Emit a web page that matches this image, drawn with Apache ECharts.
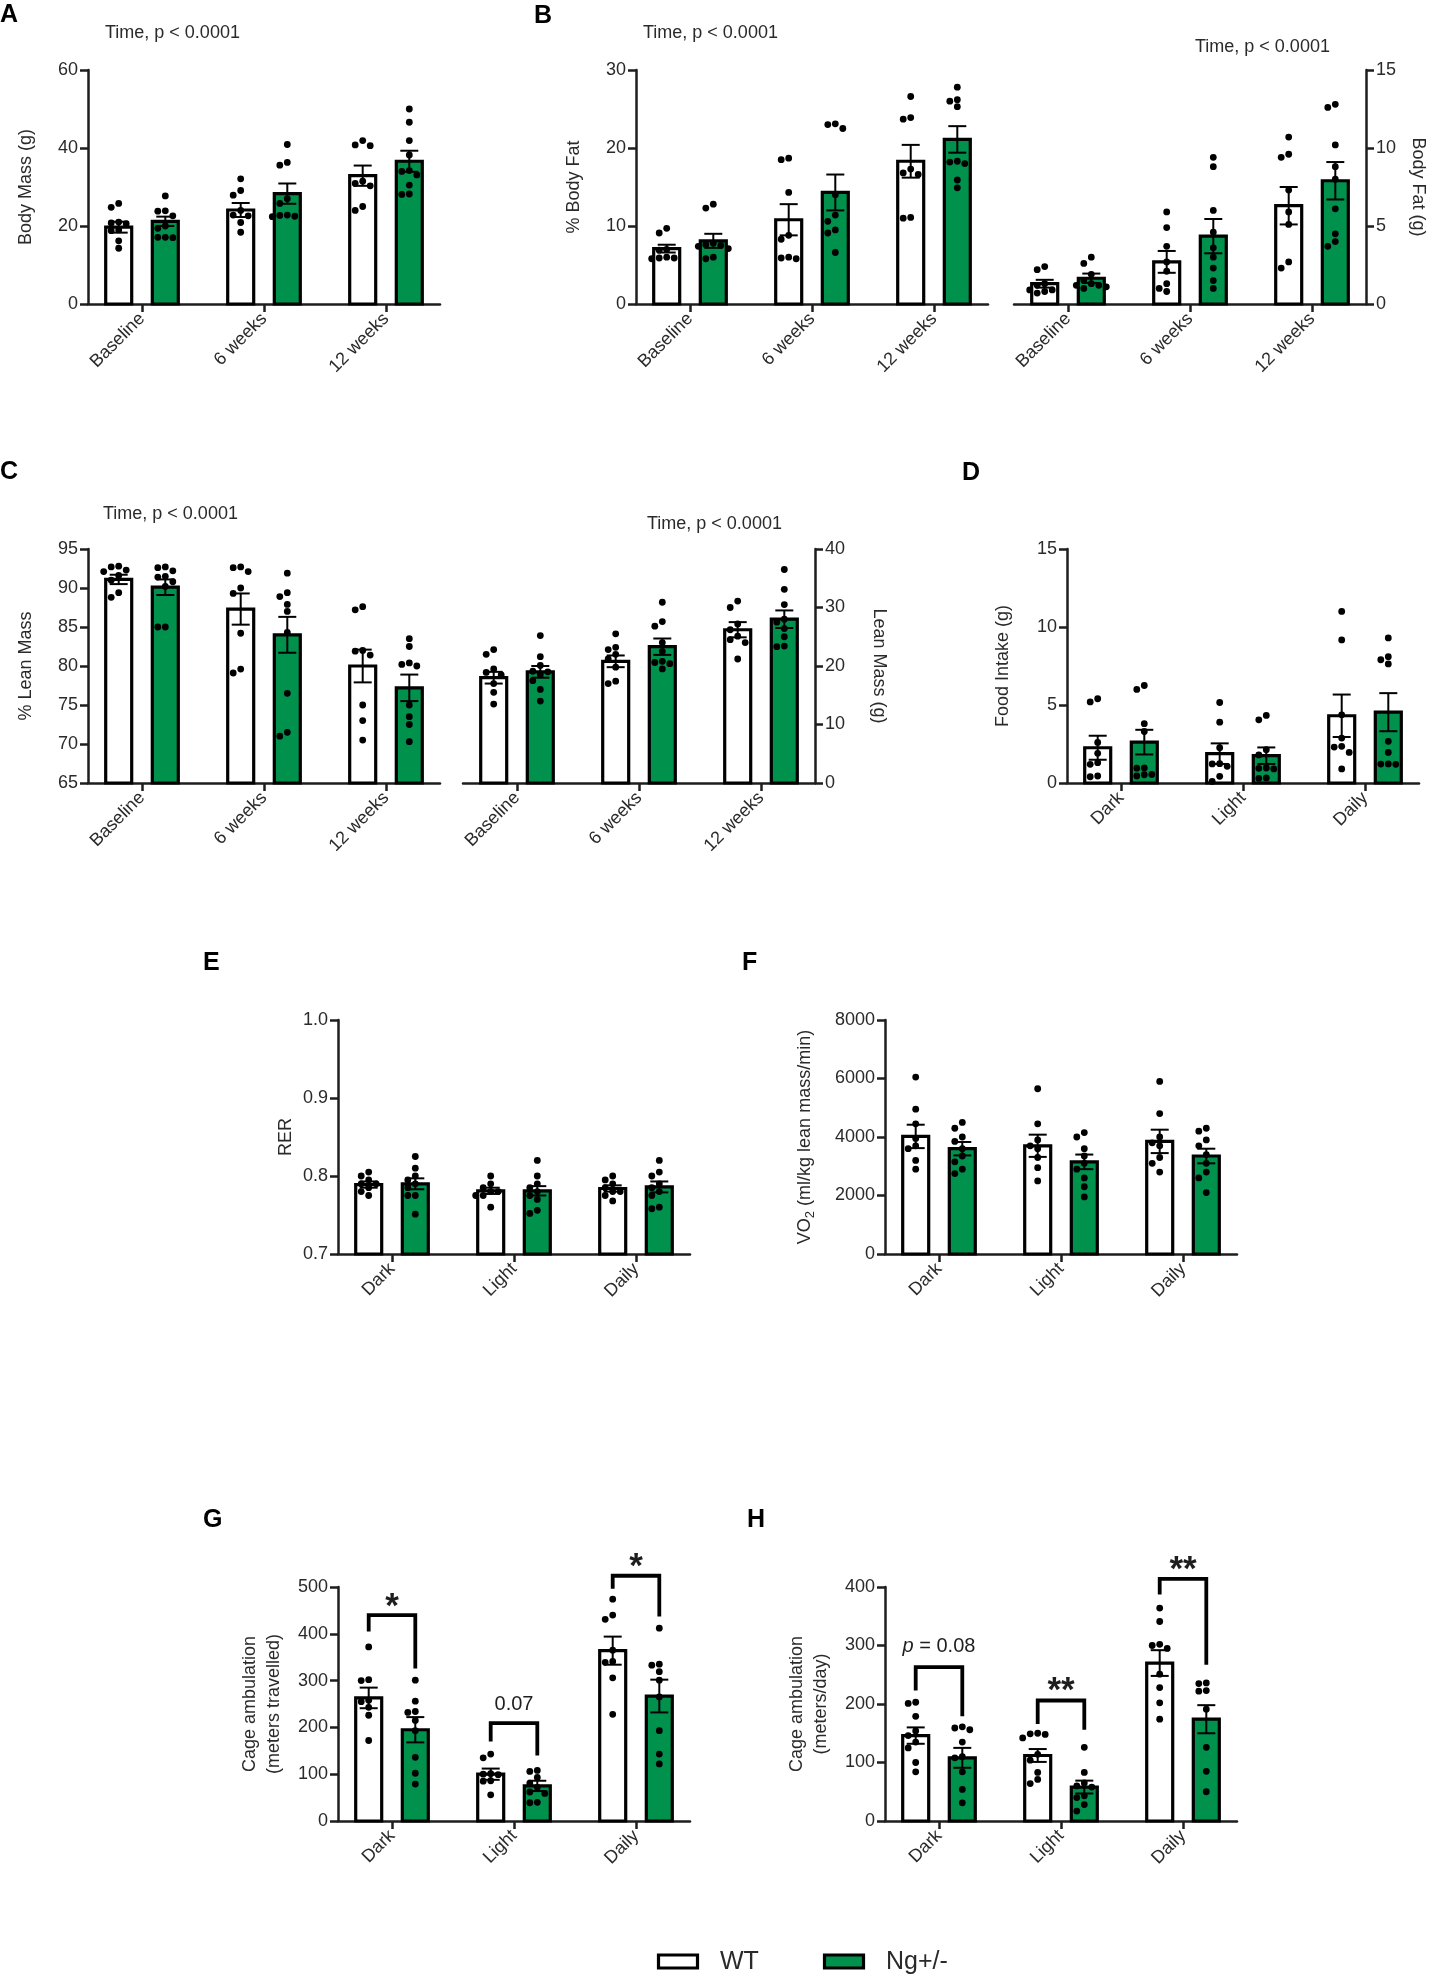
<!DOCTYPE html>
<html>
<head>
<meta charset="utf-8">
<script src="https://cdn.jsdelivr.net/npm/echarts@6/dist/echarts.min.js"></script>
<style>
  html, body { margin: 0; padding: 0; background: #fff; }
  #main { width: 1435px; height: 1976px; }
</style>
</head>
<body>
<div id="main"></div>
<script>
var GREEN = '#00914C';
var INK = '#1e1e1e';
var FONT = '"Liberation Sans", Arial, Helvetica, sans-serif';

// categories / groups
var timeCats = ['Baseline', '6 weeks', '12 weeks'];
var periodCats = ['Dark', 'Light', 'Daily'];
var groups = ['WT', 'Ng+/-'];

// A - body mass (g)
var massWtMean = [19.7, 24.1, 32.9];
var massWtSem = [1.4, 1.8, 2.6];
var massNgMean = [21.2, 28.3, 36.6];
var massNgSem = [1.2, 2.6, 2.7];
var massWtDots = [[25.8, 24.8, 21.0, 20.8, 20.6, 19.0, 18.8, 16.2, 14.3], [32.1, 29.1, 27.9, 24.0, 22.8, 22.6, 20.9, 18.4], [41.9, 40.8, 40.6, 31.5, 30.9, 30.3, 25.0, 24.0]];
var massNgDots = [[27.7, 23.9, 23.8, 22.6, 20.0, 19.4, 17.1, 17.0, 17.1], [40.9, 36.3, 35.6, 27.0, 25.8, 22.8, 22.5, 22.4, 22.7], [50.0, 46.6, 41.9, 38.2, 34.2, 34.0, 33.1, 30.5, 28.2, 28.1]];

// B - % body fat
var fatPctWtMean = [7.1, 10.8, 18.3];
var fatPctWtSem = [0.5, 2.0, 2.1];
var fatPctNgMean = [8.1, 14.3, 21.1];
var fatPctNgSem = [0.9, 2.3, 1.7];
var fatPctWtDots = [[9.7, 9.1, 7.0, 6.9, 6.0, 5.9, 5.8, 5.9], [18.7, 18.5, 14.3, 8.8, 8.3, 6.0, 5.8, 5.9], [26.6, 23.9, 23.7, 17.3, 16.8, 16.6, 11.1, 11.0]];
var fatPctNgDots = [[12.8, 12.3, 7.8, 7.6, 7.5, 7.1, 6.0, 5.8, 7.4], [23.1, 23.0, 22.5, 14.0, 11.4, 10.6, 9.5, 9.1, 6.6], [27.8, 26.2, 26.0, 25.3, 18.3, 18.0, 18.2, 15.9, 14.9]];

// B - body fat (g)
var fatGWtMean = [1.3, 2.7, 6.3];
var fatGWtSem = [0.25, 0.7, 1.2];
var fatGNgMean = [1.65, 4.35, 7.9];
var fatGNgSem = [0.3, 1.1, 1.2];
var fatGWtDots = [[2.4, 2.2, 1.3, 1.2, 0.9, 0.8, 0.9, 0.7], [5.9, 4.9, 3.7, 2.7, 2.1, 1.3, 1.0, 0.8], [10.7, 9.6, 9.4, 7.3, 5.9, 5.1, 2.7, 2.3]];
var fatGNgDots = [[3.0, 2.6, 1.9, 1.5, 1.3, 1.2, 1.1, 1.0, 1.2], [9.4, 8.8, 6.0, 4.6, 3.6, 3.0, 2.3, 1.5, 1.0], [12.8, 12.6, 10.2, 8.8, 8.0, 6.1, 4.5, 3.7, 4.0]];

// C - % lean mass
var leanPctWtMean = [91.1, 87.3, 80.0];
var leanPctWtSem = [0.6, 2.0, 2.1];
var leanPctNgMean = [90.1, 84.0, 77.2];
var leanPctNgSem = [1.0, 2.3, 1.7];
var leanPctWtDots = [[92.8, 92.7, 92.3, 92.1, 91.6, 91.0, 89.4, 88.8], [92.7, 92.6, 92.1, 90.0, 89.3, 84.2, 79.6, 79.1], [87.6, 87.2, 82.0, 81.9, 81.4, 75.0, 73.0, 70.5]];
var leanPctNgDots = [[92.7, 92.6, 92.2, 91.5, 91.4, 90.8, 90.2, 85.0, 85.0], [91.9, 89.4, 88.9, 87.9, 87.0, 84.3, 76.5, 71.5, 71.0], [83.5, 82.5, 80.4, 80.2, 80.0, 75.0, 73.5, 72.5, 70.3]];

// C - lean mass (g)
var leanGWtMean = [18.0, 20.8, 26.2];
var leanGWtSem = [1.0, 1.0, 1.3];
var leanGNgMean = [19.0, 23.3, 28.0];
var leanGNgSem = [1.0, 1.4, 1.5];
var leanGWtDots = [[22.8, 22.0, 19.5, 18.9, 18.5, 17.0, 15.5, 13.5], [25.5, 23.2, 22.8, 22.0, 21.2, 19.8, 17.4, 17.0], [31.1, 30.0, 27.2, 26.2, 25.1, 24.0, 21.2, 24.5]];
var leanGNgDots = [[25.2, 21.6, 20.1, 19.0, 19.1, 17.5, 16.0, 14.0, 18.5], [30.9, 27.6, 26.8, 24.0, 22.5, 20.8, 20.6, 20.4, 19.5], [36.5, 33.1, 30.5, 28.0, 27.5, 26.4, 25.0, 23.3, 23.4]];

// D - food intake (g)
var foodWtMean = [2.26, 1.88, 4.31];
var foodWtSem = [0.77, 0.66, 1.36];
var foodNgMean = [2.62, 1.75, 4.54];
var foodNgSem = [0.79, 0.53, 1.22];
var foodWtDots = [[5.4, 5.2, 2.6, 1.9, 1.3, 1.2, 0.45, 0.4], [5.16, 3.9, 2.26, 1.24, 1.22, 1.07, 0.43, 0.1], [11.0, 9.17, 4.37, 2.88, 2.35, 2.3, 1.96, 0.9]];
var foodNgDots = [[6.25, 6.0, 3.8, 3.3, 0.96, 0.95, 0.53, 0.55, 0.45], [4.33, 4.05, 2.13, 1.8, 0.96, 0.94, 0.9, 0.32, 0.3], [9.3, 8.1, 7.9, 7.63, 2.67, 1.96, 1.22, 1.2, 1.21]];

// E - RER
var rerWtMean = [0.789, 0.781, 0.784];
var rerWtSem = [0.004, 0.004, 0.004];
var rerNgMean = [0.790, 0.781, 0.786];
var rerNgSem = [0.007, 0.006, 0.007];
var rerWtDots = [[0.805, 0.80, 0.795, 0.79, 0.79, 0.785, 0.78, 0.775], [0.80, 0.79, 0.785, 0.78, 0.78, 0.775, 0.775, 0.76], [0.80, 0.795, 0.79, 0.785, 0.78, 0.78, 0.775, 0.768]];
var rerNgDots = [[0.825, 0.81, 0.80, 0.795, 0.79, 0.785, 0.775, 0.775, 0.751], [0.82, 0.80, 0.79, 0.785, 0.78, 0.775, 0.77, 0.756, 0.752], [0.82, 0.805, 0.80, 0.79, 0.785, 0.78, 0.775, 0.76, 0.758]];

// F - VO2
var vo2WtMean = [4020, 3700, 3850];
var vo2WtSem = [400, 380, 400];
var vo2NgMean = [3600, 3150, 3350];
var vo2NgSem = [230, 250, 250];
var vo2WtDots = [[6050, 4950, 4450, 3950, 3700, 3600, 3200, 2900], [5650, 4450, 3900, 3700, 3600, 3300, 2950, 2500], [5900, 4800, 4000, 3800, 3700, 3300, 3100, 2800]];
var vo2NgDots = [[4500, 4300, 4000, 3850, 3600, 3350, 3150, 2900, 2750], [4150, 4000, 3600, 3350, 3100, 2900, 2600, 2300, 1950], [4300, 4200, 3900, 3700, 3400, 3100, 2800, 2600, 2100]];

// G - cage ambulation (meters travelled)
var ambWtMean = [263, 100, 364];
var ambWtSem = [22, 12, 30];
var ambNgMean = [195, 75, 267];
var ambNgSem = [27, 11, 35];
var ambWtDots = [[372, 302, 300, 258, 255, 243, 226, 172], [143, 135, 101, 100, 99, 86, 85, 56], [474, 440, 431, 365, 341, 339, 306, 228]];
var ambNgDots = [[301, 256, 234, 232, 215, 193, 136, 102, 79], [108, 106, 93, 81, 72, 62, 59, 40, 39], [412, 335, 333, 319, 301, 265, 193, 143, 122]];
var ambSigTop = [440, 209, 524];
var ambSigLeft = [405, 170, 496];
var ambSigRight = [326, 140, 437];
var ambSigText = ['*', '0.07', '*'];
var ambSigY = [472, 249, 557];

// H - cage ambulation (meters/day)
var dayWtMean = [146, 112, 270];
var dayWtSem = [14, 11, 22];
var dayNgMean = [108, 58, 174];
var dayNgSem = [17, 11, 24];
var dayWtDots = [[203, 201, 179, 154, 146, 135, 125, 100, 84], [150, 149, 148, 142, 114, 104, 83, 71, 64], [364, 341, 302, 300, 295, 251, 228, 202, 174]];
var dayNgDots = [[161, 159, 156, 135, 110, 108, 84, 54, 31], [126, 83, 65, 60, 58, 43, 40, 28, 17], [236, 235, 223, 222, 191, 126, 85, 50]];
var daySigTop = [263, 206, 414];
var daySigLeft = [223, 166, 387];
var daySigRight = [179, 156, 267];
var daySigText = ['{i|p} = 0.08', '**', '**'];
var daySigY = [298, 233, 441];

// layout constants
var X_MIN = -0.4426, X_MAX = 2.4426;
var PANEL_W = 352, PANEL_H = 234;
var OFF = 23.3, BAR_W = 26, CAP = 9, DOT_R = 3.4;

var grids = [], xAxes = [], yAxes = [], series = [];

// simple beeswarm: spread dots sideways so they do not overlap
function swarm(vals, pxPerUnit) {
    var order = vals.map(function (v, k) { return k; })
        .sort(function (a, b) { return vals[b] - vals[a]; });
    var cand = [0, -7.5, 7.5, -15, 15, -22, 22];
    var placed = [], out = [];
    order.forEach(function (k) {
        var y = vals[k] * pxPerUnit, x = cand[cand.length - 1];
        for (var j = 0; j < cand.length; j++) {
            var ok = placed.every(function (q) {
                var dx = q[0] - cand[j], dy = q[1] - y;
                return dx * dx + dy * dy >= 44;
            });
            if (ok) { x = cand[j]; break; }
        }
        placed.push([x, y]);
        out[k] = x;
    });
    return out;
}

function addPanel(p) {
    var i = grids.length;
    grids.push({ left: p.left, top: p.top, width: PANEL_W, height: PANEL_H });
    xAxes.push({
        gridIndex: i, type: 'value', min: X_MIN, max: X_MAX,
        axisLine: { onZero: false, lineStyle: { color: INK, width: 2.5 } },
        axisTick: { customValues: [0, 1, 2], length: 8, lineStyle: { color: INK, width: 2.5 } },
        axisLabel: {
            customValues: [0, 1, 2], rotate: 45, margin: 12,
            fontSize: 18, fontFamily: FONT, color: '#2a2a2a',
            formatter: function (v) { return p.cats[Math.round(v)]; }
        },
        splitLine: { show: false }
    });
    var nameStyle = { fontSize: 18, fontFamily: FONT, color: '#2a2a2a', lineHeight: 24 };
    if (p.rich) nameStyle.rich = p.rich;
    yAxes.push({
        gridIndex: i, type: 'value', position: p.right ? 'right' : 'left',
        min: p.min, max: p.max, interval: p.interval,
        name: p.name, nameLocation: 'middle', nameGap: p.nameGap,
        nameRotate: p.right ? -90 : 90, nameTextStyle: nameStyle,
        axisLine: { show: true, onZero: false, lineStyle: { color: INK, width: 2.5 } },
        axisTick: { show: true, length: 8, lineStyle: { color: INK, width: 2.5 } },
        axisLabel: {
            fontSize: 18, fontFamily: FONT, color: '#2a2a2a', margin: 10,
            formatter: p.fmt || function (v) { return String(v); }
        },
        splitLine: { show: false }
    });

    var yMin = p.min;
    var bars = [];
    for (var c = 0; c < 3; c++) {
        bars.push([c, p.wtMean[c], p.wtSem[c], 0]);
        bars.push([c, p.ngMean[c], p.ngSem[c], 1]);
    }
    series.push({
        type: 'custom', xAxisIndex: i, yAxisIndex: i, z: 2,
        data: bars,
        renderItem: function (params, api) {
            var c = api.value(0), m = api.value(1), s = api.value(2), g = api.value(3);
            var base = api.coord([c, yMin]);
            var top = api.coord([c, m]);
            var cx = base[0] + (g === 0 ? -OFF : OFF);
            var hi = api.coord([c, m + s])[1];
            var lo = api.coord([c, Math.max(m - s, yMin)])[1];
            var ink = { stroke: '#000', lineWidth: 2 };
            return {
                type: 'group', children: [
                    { type: 'rect', shape: { x: cx - BAR_W / 2, y: top[1], width: BAR_W, height: base[1] - top[1] },
                      style: { fill: g ? GREEN : '#fff', stroke: '#000', lineWidth: 3.2 } },
                    { type: 'line', shape: { x1: cx, y1: hi, x2: cx, y2: lo }, style: ink },
                    { type: 'line', shape: { x1: cx - CAP, y1: hi, x2: cx + CAP, y2: hi }, style: ink },
                    { type: 'line', shape: { x1: cx - CAP, y1: lo, x2: cx + CAP, y2: lo }, style: ink }
                ]
            };
        }
    });

    var ppu = PANEL_H / (p.max - p.min);
    var dots = [];
    [p.wtDots, p.ngDots].forEach(function (set, g) {
        set.forEach(function (vals, c) {
            var jit = swarm(vals, ppu);
            vals.forEach(function (v, k) { dots.push([c, v, jit[k], g]); });
        });
    });
    series.push({
        type: 'custom', xAxisIndex: i, yAxisIndex: i, z: 3,
        data: dots,
        renderItem: function (params, api) {
            var pt = api.coord([api.value(0), api.value(1)]);
            var cx = pt[0] + (api.value(3) === 0 ? -OFF : OFF) + api.value(2);
            return { type: 'circle', shape: { cx: cx, cy: pt[1], r: DOT_R }, style: { fill: '#000' } };
        }
    });

    if (p.sigTop) {
        var sig = [];
        for (var k = 0; k < 3; k++) sig.push([k, p.sigTop[k], p.sigLeft[k], p.sigRight[k], p.sigY[k]]);
        series.push({
            type: 'custom', xAxisIndex: i, yAxisIndex: i, z: 4,
            data: sig,
            renderItem: function (params, api) {
                var c = api.value(0);
                var t = api.coord([c, api.value(1)]);
                var l = api.coord([c, api.value(2)]);
                var r = api.coord([c, api.value(3)]);
                var ty = api.coord([c, api.value(4)])[1];
                var txt = p.sigText[params.dataIndex];
                var star = txt.indexOf('*') === 0;
                return {
                    type: 'group', children: [
                        { type: 'polyline',
                          shape: { points: [[t[0] - OFF, l[1]], [t[0] - OFF, t[1]], [t[0] + OFF, t[1]], [t[0] + OFF, r[1]]] },
                          style: { stroke: '#000', lineWidth: 3.8, fill: null, lineJoin: 'miter' } },
                        { type: 'text', x: t[0], y: ty + (star ? 7 : 0),
                          style: {
                              text: txt, align: 'center', verticalAlign: 'middle',
                              fontFamily: FONT, fill: INK,
                              fontSize: star ? 35 : 20, fontWeight: star ? 'bold' : 'normal',
                              rich: { i: { fontStyle: 'italic', fontSize: 20, fontFamily: FONT, fill: INK } }
                          } }
                    ]
                };
            }
        });
    }
}

addPanel({ left: 88, top: 70, cats: timeCats, min: 0, max: 60, interval: 20, name: 'Body Mass (g)', nameGap: 50,
    wtMean: massWtMean, wtSem: massWtSem, ngMean: massNgMean, ngSem: massNgSem, wtDots: massWtDots, ngDots: massNgDots });
addPanel({ left: 636, top: 70, cats: timeCats, min: 0, max: 30, interval: 10, name: '% Body Fat', nameGap: 50,
    wtMean: fatPctWtMean, wtSem: fatPctWtSem, ngMean: fatPctNgMean, ngSem: fatPctNgSem, wtDots: fatPctWtDots, ngDots: fatPctNgDots });
addPanel({ left: 1014, top: 70, cats: timeCats, min: 0, max: 15, interval: 5, right: true, name: 'Body Fat (g)', nameGap: 40,
    wtMean: fatGWtMean, wtSem: fatGWtSem, ngMean: fatGNgMean, ngSem: fatGNgSem, wtDots: fatGWtDots, ngDots: fatGNgDots });
addPanel({ left: 88, top: 549, cats: timeCats, min: 65, max: 95, interval: 5, name: '% Lean Mass', nameGap: 50,
    wtMean: leanPctWtMean, wtSem: leanPctWtSem, ngMean: leanPctNgMean, ngSem: leanPctNgSem, wtDots: leanPctWtDots, ngDots: leanPctNgDots });
addPanel({ left: 463, top: 549, cats: timeCats, min: 0, max: 40, interval: 10, right: true, name: 'Lean Mass (g)', nameGap: 52,
    wtMean: leanGWtMean, wtSem: leanGWtSem, ngMean: leanGNgMean, ngSem: leanGNgSem, wtDots: leanGWtDots, ngDots: leanGNgDots });
addPanel({ left: 1067, top: 549, cats: periodCats, min: 0, max: 15, interval: 5, name: 'Food Intake (g)', nameGap: 52,
    wtMean: foodWtMean, wtSem: foodWtSem, ngMean: foodNgMean, ngSem: foodNgSem, wtDots: foodWtDots, ngDots: foodNgDots });
addPanel({ left: 338, top: 1020, cats: periodCats, min: 0.7, max: 1.0, interval: 0.1, name: 'RER', nameGap: 40,
    fmt: function (v) { return v.toFixed(1); },
    wtMean: rerWtMean, wtSem: rerWtSem, ngMean: rerNgMean, ngSem: rerNgSem, wtDots: rerWtDots, ngDots: rerNgDots });
addPanel({ left: 885, top: 1020, cats: periodCats, min: 0, max: 8000, interval: 2000,
    name: 'VO{sub|2} (ml/kg lean mass/min)', nameGap: 68,
    rich: { sub: { fontSize: 13, fontFamily: FONT, color: '#2a2a2a', padding: [10, 0, 0, 0] } },
    wtMean: vo2WtMean, wtSem: vo2WtSem, ngMean: vo2NgMean, ngSem: vo2NgSem, wtDots: vo2WtDots, ngDots: vo2NgDots });
addPanel({ left: 338, top: 1587, cats: periodCats, min: 0, max: 500, interval: 100,
    name: 'Cage ambulation\n(meters travelled)', nameGap: 52,
    wtMean: ambWtMean, wtSem: ambWtSem, ngMean: ambNgMean, ngSem: ambNgSem, wtDots: ambWtDots, ngDots: ambNgDots,
    sigTop: ambSigTop, sigLeft: ambSigLeft, sigRight: ambSigRight, sigText: ambSigText, sigY: ambSigY });
addPanel({ left: 885, top: 1587, cats: periodCats, min: 0, max: 400, interval: 100,
    name: 'Cage ambulation\n(meters/day)', nameGap: 52,
    wtMean: dayWtMean, wtSem: dayWtSem, ngMean: dayNgMean, ngSem: dayNgSem, wtDots: dayWtDots, ngDots: dayNgDots,
    sigTop: daySigTop, sigLeft: daySigLeft, sigRight: daySigRight, sigText: daySigText, sigY: daySigY });

function txt(s, x, y, size, bold) {
    return { type: 'text', x: x, y: y, style: {
        text: s, fontSize: size, fontWeight: bold ? 'bold' : 'normal',
        fontFamily: FONT, fill: bold ? '#000' : '#2a2a2a', verticalAlign: 'middle' } };
}

var timeNote = 'Time, p < 0.0001';
var graphics = [
    txt('A', 0, 15, 25, true), txt('B', 534, 16, 25, true),
    txt('C', 0, 472, 25, true), txt('D', 962, 473, 25, true),
    txt('E', 203, 963, 25, true), txt('F', 742, 963, 25, true),
    txt('G', 203, 1520, 25, true), txt('H', 747, 1520, 25, true),
    txt(timeNote, 105, 33, 18), txt(timeNote, 643, 33, 18), txt(timeNote, 1195, 47, 18),
    txt(timeNote, 103, 514, 18), txt(timeNote, 647, 524, 18)
];
// legend
[657, 823].forEach(function (x, g) {
    graphics.push({ type: 'rect', shape: { x: x + 1.5, y: 1955, width: 39, height: 13 },
        style: { fill: g ? GREEN : '#fff', stroke: '#000', lineWidth: 3.2 } });
    graphics.push(txt(groups[g], x + 63, 1962, 25));
});

var chart = echarts.init(document.getElementById('main'));
chart.setOption({
    animation: false,
    backgroundColor: '#fff',
    grid: grids,
    xAxis: xAxes,
    yAxis: yAxes,
    series: series,
    graphic: graphics
});
</script>
</body>
</html>
